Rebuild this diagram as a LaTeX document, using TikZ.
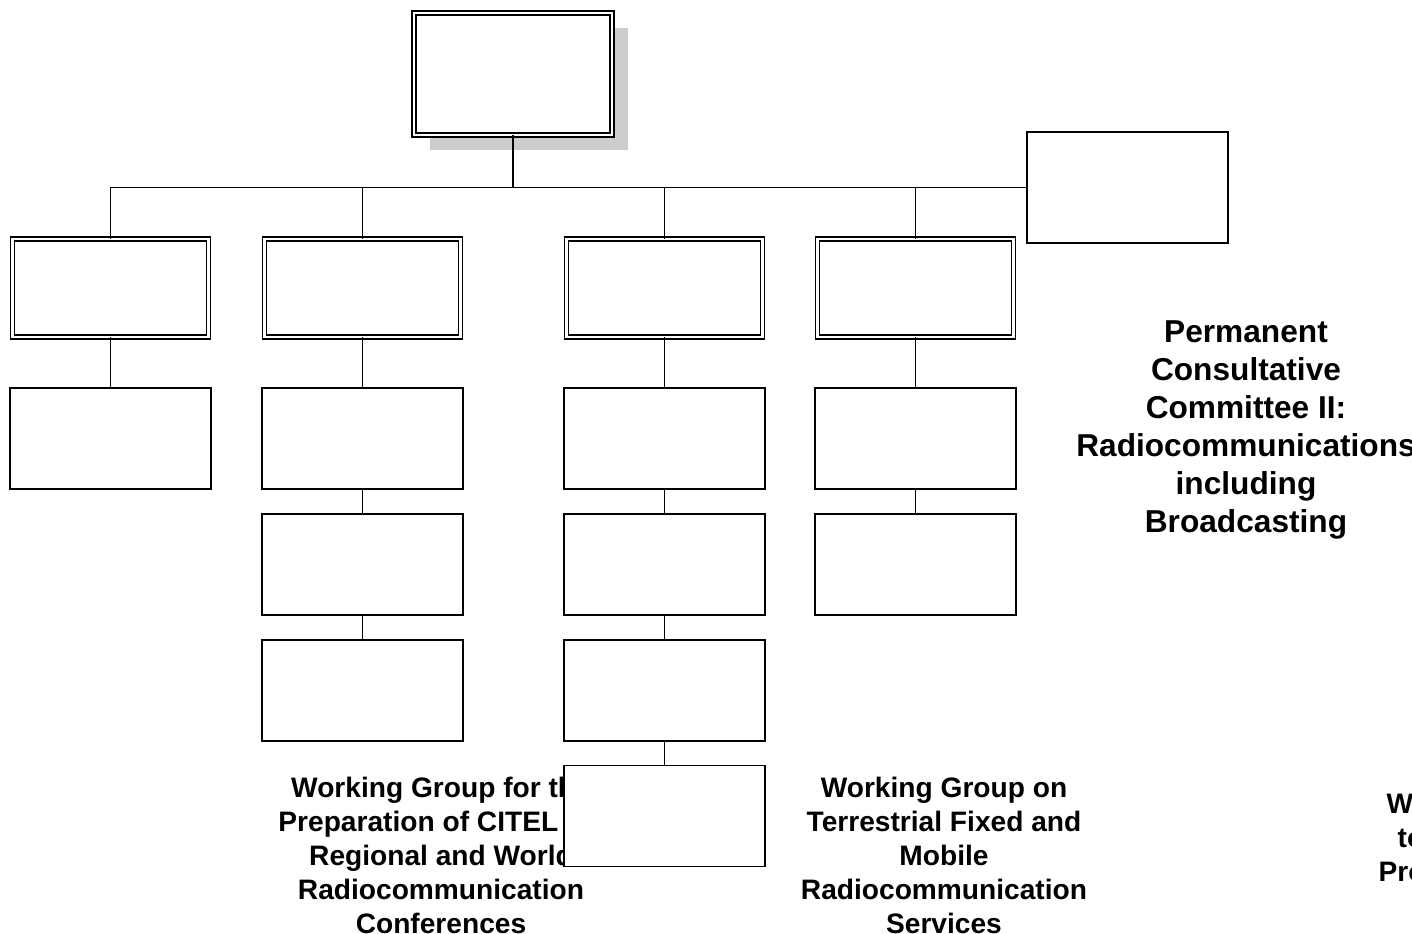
\documentclass[tikz,border=0pt]{standalone}
\usepackage{fontspec}
\setmainfont{Liberation Sans}
\usepackage{xcolor}
\usepackage{tikz}
\usetikzlibrary{shadows}
\definecolor{ink}{HTML}{000000}
\definecolor{shade}{HTML}{CCCCCC}
\tikzset{
  box/.style={draw=ink, fill=white, line width=0.45pt, inner sep=0pt, outer sep=0pt, minimum width=2.01cm, minimum height=1.01cm},
  dbox/.style={box, line width=0.4pt, double=white, double distance=0.75pt, minimum width=1.96cm, minimum height=0.98cm},
  link/.style={draw=ink, line width=0.45pt},
  grp/.style={text=ink, font=\fontsize{8}{9.67}\selectfont\bfseries, align=center, inner sep=0pt},
  pcc/.style={grp, font=\fontsize{9}{10.8}\selectfont\bfseries}
}

\begin{document}
\begin{tikzpicture}[x=0.01cm, y=-0.01cm]
  \useasboundingbox (0,0) rectangle (1412,934);
  \clip (0,0) rectangle (1412,934);
  \fill[white] (0,0) rectangle (1412,934);

  % texts first, the boxes lie over them
  \node[pcc] (pcc) at (1246,430) {Permanent\\Consultative\\Committee II:\\Radiocommunications\\including\\Broadcasting};
  \node[grp] (wgconf) at (441,855) {Working Group for the\\Preparation of CITEL for\\Regional and World\\Radiocommunication\\Conferences};
  \node[grp] (wgfix) at (944,855) {Working Group on\\Terrestrial Fixed and\\Mobile\\Radiocommunication\\Services};
  \node[grp, anchor=west, align=left] (wgpro) at (1378,838) {\hspace*{0.08cm}W\\\hspace*{0.19cm}to\\Pro};

  % boxes
  \node[dbox, minimum width=1.98cm, minimum height=1.22cm,
    drop shadow={shadow xshift=0.16cm, shadow yshift=-0.15cm, fill=shade, opacity=1}] (head) at (513,74) {};
  \node[box, minimum height=1.11cm] (secr) at (1127.5,187.5) {};

  \node[dbox] (wg1) at (110.5,288) {};
  \node[dbox] (wg2) at (362.5,288) {};
  \node[dbox] (wg3) at (664.5,288) {};
  \node[dbox] (wg4) at (915.5,288) {};

  \node[box] (wg1a) at (110.5,438.5) {};
  \node[box] (wg2a) at (362.5,438.5) {};
  \node[box] (wg2b) at (362.5,564.5) {};
  \node[box] (wg2c) at (362.5,690.5) {};
  \node[box] (wg3a) at (664.5,438.5) {};
  \node[box] (wg3b) at (664.5,564.5) {};
  \node[box] (wg3c) at (664.5,690.5) {};
  \node[box] (wg3d) at (664.5,816) {};
  \node[box] (wg4a) at (915.5,438.5) {};
  \node[box] (wg4b) at (915.5,564.5) {};

  % lines
  \draw[link] (head.south) -- (head.south |- secr.west);
  \draw[link] (wg1.north) |- (secr.west);
  \draw[link] (wg2.north) -- (wg2.north |- secr.west);
  \draw[link] (wg3.north) -- (wg3.north |- secr.west);
  \draw[link] (wg4.north) -- (wg4.north |- secr.west);

  \draw[link] (wg1.south) -- (wg1a.north);
  \draw[link] (wg2.south) -- (wg2a.north) (wg2a.south) -- (wg2b.north) (wg2b.south) -- (wg2c.north);
  \draw[link] (wg3.south) -- (wg3a.north) (wg3a.south) -- (wg3b.north) (wg3b.south) -- (wg3c.north) (wg3c.south) -- (wg3d.north);
  \draw[link] (wg4.south) -- (wg4a.north) (wg4a.south) -- (wg4b.north);
\end{tikzpicture}
\end{document}
